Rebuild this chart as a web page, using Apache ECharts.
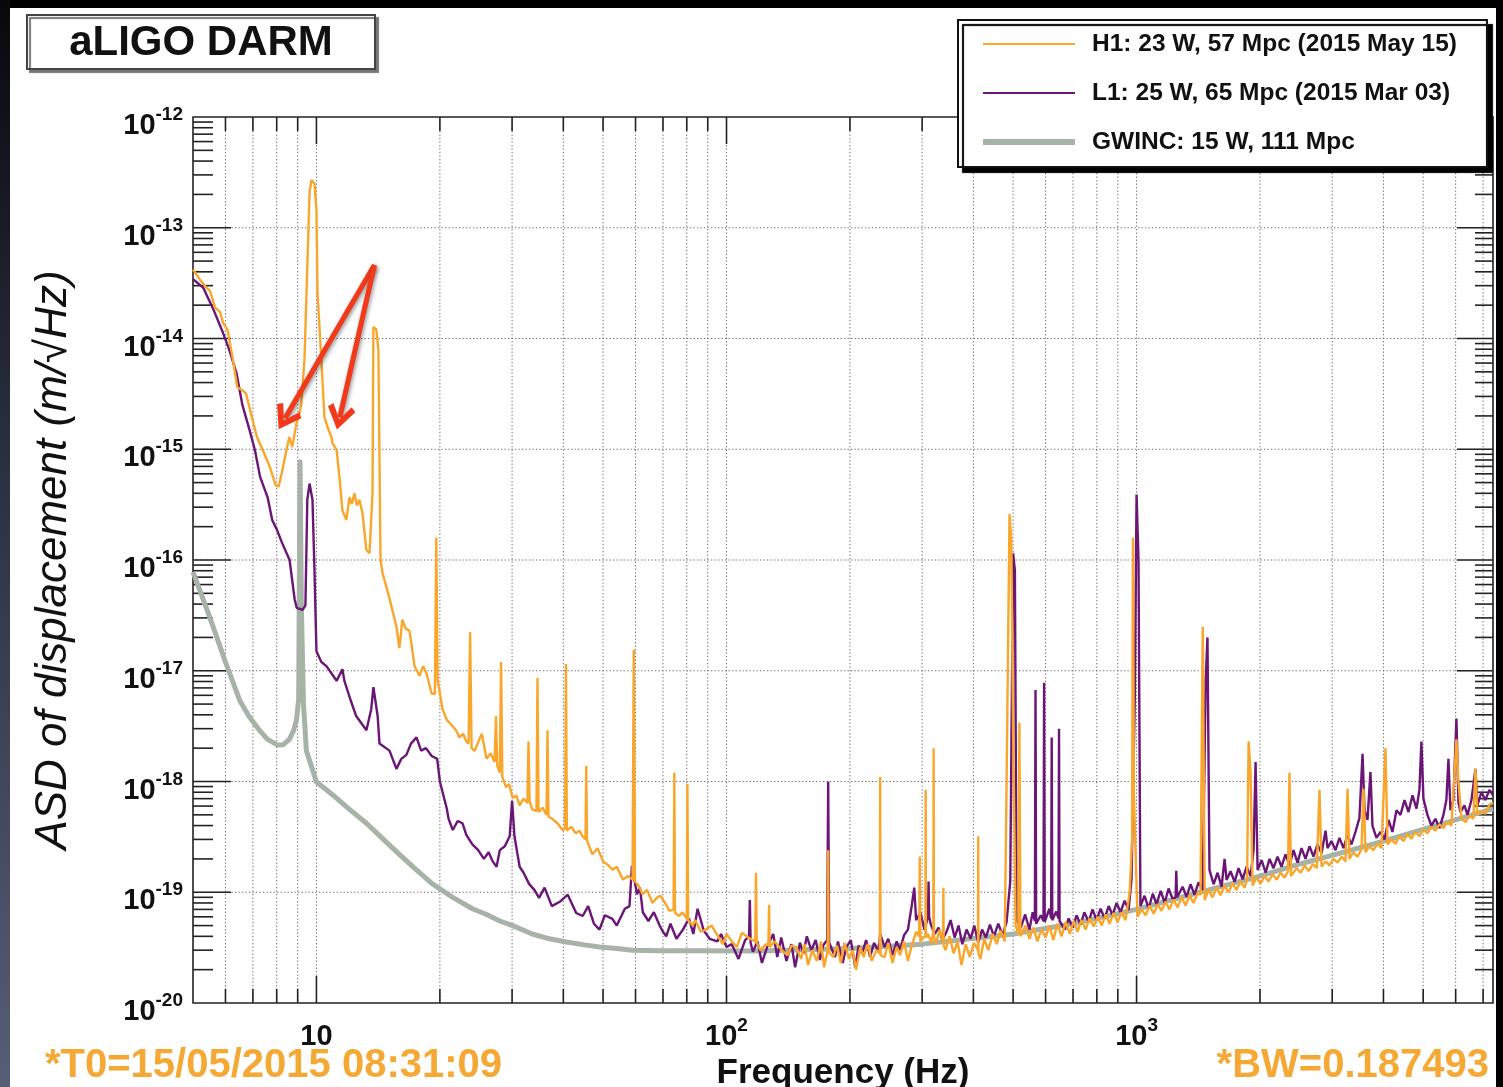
<!DOCTYPE html>
<html>
<head>
<meta charset="utf-8">
<script src="https://cdn.jsdelivr.net/npm/echarts/dist/echarts.min.js"></script>
<style>
html,body{margin:0;padding:0;background:#000;width:1503px;height:1087px;overflow:hidden}
#chart{position:absolute;left:0;top:0;width:1503px;height:1087px}
.strip{position:absolute;z-index:10}
</style>
</head>
<body>
<div id="chart"></div>
<div class="strip" style="left:0;top:0;width:1503px;height:8px;background:#000"></div>
<div class="strip" style="left:1496px;top:0;width:7px;height:1087px;background:#000"></div>
<div class="strip" style="left:0;top:0;width:10px;height:1087px;background:linear-gradient(#08080c,#2a2d3e 40%,#585d77)"></div>
<script>
// ---------- names ----------
const H1_NAME = 'H1: 23 W, 57 Mpc (2015 May 15)';
const L1_NAME = 'L1: 25 W, 65 Mpc (2015 Mar 03)';
const GW_NAME = 'GWINC: 15 W, 111 Mpc';

// ---------- axis ticks ----------
const xMajorTicks = [10, 100, 1000];
const xMinorTicks = [6,7,8,9,20,30,40,50,60,70,80,90,200,300,400,500,600,700,800,900,2000,3000,4000,5000,6000,7000];
const yMajorTicks = [1e-19,1e-18,1e-17,1e-16,1e-15,1e-14,1e-13];
const yMinorTicks = [
 2e-20,3e-20,4e-20,5e-20,6e-20,7e-20,8e-20,9e-20,
 2e-19,3e-19,4e-19,5e-19,6e-19,7e-19,8e-19,9e-19,
 2e-18,3e-18,4e-18,5e-18,6e-18,7e-18,8e-18,9e-18,
 2e-17,3e-17,4e-17,5e-17,6e-17,7e-17,8e-17,9e-17,
 2e-16,3e-16,4e-16,5e-16,6e-16,7e-16,8e-16,9e-16,
 2e-15,3e-15,4e-15,5e-15,6e-15,7e-15,8e-15,9e-15,
 2e-14,3e-14,4e-14,5e-14,6e-14,7e-14,8e-14,9e-14,
 2e-13,3e-13,4e-13,5e-13,6e-13,7e-13,8e-13,9e-13];

// ---------- data: [frequency Hz, ASD m/rtHz] ----------
const h1Low = [[5,4.2e-14],[5.2,3.4e-14],[5.4,2.86e-14],[5.5,2.7e-14],[5.66,1.9e-14],[5.82,1.74e-14],[5.92,1.38e-14],[6.07,1.2e-14],[6.24,6.8e-15],[6.41,3.65e-15],[6.6,3.4e-15],[6.73,3.2e-15],[6.96,1.95e-15],[7.16,1.29e-15],[7.4,9.8e-16],[7.7,6.9e-16],[7.95,4.75e-16],[8.09,4.6e-16],[8.23,6.1e-16],[8.46,1.0e-15],[8.59,1.29e-15],[8.73,1.05e-15],[8.94,1.73e-15],[9.09,2.1e-15],[9.19,2.6e-15],[9.35,6.4e-15],[9.51,5.1e-14],[9.62,2.06e-13],[9.72,2.7e-13],[9.89,2.5e-13],[10,1.45e-13],[10.06,2.6e-14],[10.28,6.4e-15],[10.46,1.95e-15],[10.64,1.59e-15],[10.88,1.29e-15],[10.94,1.14e-15],[11.2,9.8e-16],[11.38,5.6e-16],[11.57,2.8e-16],[11.83,2.3e-16],[12.04,3.7e-16],[12.2,3.2e-16],[12.38,4.0e-16],[12.55,3.1e-16],[12.73,3.5e-16],[12.95,2.65e-16],[13.24,1.23e-16],[13.47,1.15e-16],[13.7,4.0e-16],[13.77,1.27e-14],[14.0,1.2e-14],[14.16,7.9e-15],[14.33,1.0e-16],[14.5,7.6e-17],[15.07,4.5e-17],[15.67,2.5e-17],[15.93,1.6e-17],[16.2,2.9e-17],[16.5,2.4e-17],[16.86,2.3e-17],[17.35,1.1e-17],[17.83,9.0e-18],[18.2,1.1e-17],[18.55,9.5e-18],[19.1,6.2e-18],[19.45,6.2e-18],[19.6,1.6e-16],[19.75,8.2e-18],[20.3,4.5e-18],[20.8,3.6e-18],[21.4,3.2e-18],[21.9,2.9e-18],[22.3,2.5e-18],[22.8,2.7e-18],[23.2,2.3e-18],[23.5,2.2e-18],[23.7,2.24e-17],[23.9,2.0e-18],[24.3,1.89e-18],[25.3,2.7e-18],[26.0,1.6e-18],[26.6,1.8e-18],[27.2,1.5e-18],[27.4,3.9e-18],[27.6,1.4e-18],[28.0,1.2e-18],[28.2,1.2e-17],[28.4,1.1e-18],[29.0,8.9e-19],[29.5,9.5e-19],[30.1,7.1e-19],[30.7,7.5e-19],[31.3,6.1e-19],[32.0,7.0e-19],[32.7,6.4e-19],[32.9,2.3e-18],[33.1,6.6e-19],[33.6,5.6e-19],[34.4,5.4e-19],[34.6,8.6e-18],[34.8,5.3e-19],[35.6,5.8e-19],[36.4,5.0e-19],[36.6,2.9e-18],[36.8,4.8e-19],[37.6,4.6e-19],[38.7,4.2e-19],[39.8,3.65e-19],[40.4,3.8e-19],[40.6,1.15e-17],[40.8,3.6e-19],[41.8,3.9e-19],[42.9,3.4e-19],[43.8,3.6e-19],[44.6,3.2e-19],[45.3,3.0e-19],[45.5,1.38e-18],[45.7,2.9e-19],[47.1,2.2e-19],[48.5,2.5e-19],[50,1.9e-19],[51.5,1.75e-19],[52.7,1.6e-19],[54,1.7e-19],[55.9,1.3e-19],[57.5,1.4e-19],[59.0,1.3e-19],[59.4,1.55e-17],[59.8,1.25e-19],[61,1.15e-19],[62.4,9.6e-20],[64,1.05e-19],[66,8.0e-20],[67.6,8.9e-20],[69,9.3e-20],[71.3,7.7e-20],[72.5,6.8e-20],[74.3,7.0e-20],[74.6,1.2e-18],[74.9,6.5e-20],[76.7,6.1e-20],[78,6.6e-20],[80.0,5.8e-20],[80.3,9.5e-19],[80.6,5.6e-20],[82.7,5.0e-20],[84,5.6e-20],[86.5,4.4e-20],[89.1,4.6e-20],[92,5.0e-20],[95.8,3.9e-20],[98,3.4e-20],[100,4.2e-20],[103,3.6e-20],[106,3.2e-20],[109,4.3e-20],[113,3.9e-20],[117.5,3.6e-20],[118,1.5e-19],[118.5,3.5e-20],[121,3.0e-20],[125,3.4e-20],[126.5,3.3e-20],[127,7.7e-20],[127.5,3.2e-20],[131,3.6e-20],[137,2.95e-20],[141,2.7e-20],[144,3.3e-20]];

const h1High = [[148,3.2e-20],[152,2.5e-20],[155,3.4e-20],[158,2.2e-20],[162,3.0e-20],[166,2.4e-20],[170,3.6e-20],[173,2.1e-20],[176.5,3.0e-20],[177,2.4e-19],[177.5,2.9e-20],[182,2.6e-20],[186,3.3e-20],[190,2.3e-20],[194,3.5e-20],[199,2.5e-20],[203,3.0e-20],[207,2.0e-20],[212,3.2e-20],[216,2.6e-20],[221,3.4e-20],[226,2.4e-20],[232,3.0e-20],[236.5,2.8e-20],[237,1.1e-18],[237.5,2.7e-20],[243,2.6e-20],[248,3.5e-20],[254,2.3e-20],[260,3.2e-20],[265,2.7e-20],[271,3.6e-20],[277,2.4e-20],[283,3.3e-20],[290,4.4e-20],[295,4.0e-20],[296,2.1e-19],[297,3.6e-20],[300,3.8e-20],[305.5,4.0e-20],[306,8.4e-19],[306.5,3.9e-20],[310,4.2e-20],[316,3.5e-20],[319.5,4.4e-20],[320,2.0e-18],[320.5,4.0e-20],[324,3.4e-20],[331,4.6e-20],[337.5,3.5e-20],[338,1.1e-19],[338.5,3.3e-20],[342,3.0e-20],[350,4.0e-20],[358,2.8e-20],[366,3.6e-20],[374,2.2e-20],[383,3.4e-20],[392,2.6e-20],[401,3.5e-20],[410.5,3.0e-20],[411,3.2e-19],[411.5,2.8e-20],[416,2.5e-20],[425,3.8e-20],[435,3.0e-20],[446,4.2e-20],[456,3.4e-20],[466,4.5e-20],[477,3.6e-20],[482,1.0e-18],[490,2.6e-16],[495,1.5e-16],[500,3.0e-18],[507,5.0e-20],[515,4.2e-20],[518,3.4e-18],[521,4.0e-20],[536,5.0e-20],[548,3.8e-20],[560,4.8e-20],[573,3.6e-20],[586,4.6e-20],[600,3.9e-20],[613,5.0e-20],[627,3.7e-20],[641,5.2e-20],[656,4.0e-20],[672,5.4e-20],[687,4.2e-20],[703,5.5e-20],[718,4.4e-20],[734,5.6e-20],[751,4.6e-20],[768,5.8e-20],[786,4.9e-20],[804,6.0e-20],[822,5.0e-20],[841,6.3e-20],[859,5.2e-20],[879,6.5e-20],[899,5.4e-20],[919,6.6e-20],[940,5.6e-20],[962,1.0e-19],[975,3.0e-19],[980,1.6e-16],[985,8e-19],[1005,6.0e-20],[1028,7.0e-20],[1052,6.2e-20],[1076,7.6e-20],[1101,6.4e-20],[1126,7.8e-20],[1150,6.8e-20],[1177,8.2e-20],[1203,7.0e-20],[1231,8.6e-20],[1259,7.3e-20],[1288,9.0e-20],[1317,7.6e-20],[1346,9.4e-20],[1377,8.0e-20],[1408,9.8e-20],[1432,9.5e-20],[1450,2.5e-17],[1466,8.5e-20],[1498,1.05e-19],[1532,9.0e-20],[1567,1.1e-19],[1602,9.4e-20],[1639,1.15e-19],[1676,1.0e-19],[1714,1.2e-19],[1753,1.05e-19],[1793,1.25e-19],[1834,1.1e-19],[1860,1.3e-19],[1876,2.3e-18],[1897,1.2e-18],[1918,1.15e-19],[1962,1.35e-19],[2007,1.2e-19],[2052,1.4e-19],[2099,1.25e-19],[2147,1.45e-19],[2196,1.3e-19],[2246,1.5e-19],[2297,1.35e-19],[2340,1.55e-19],[2360,1.2e-18],[2380,1.4e-19],[2458,1.65e-19],[2514,1.5e-19],[2571,1.75e-19],[2630,1.55e-19],[2690,1.8e-19],[2751,1.65e-19],[2793,8.4e-19],[2826,1.7e-19],[2890,1.9e-19],[2954,1.75e-19],[3022,2.0e-19],[3091,1.85e-19],[3161,2.1e-19],[3233,1.9e-19],[3270,8.6e-19],[3305,2.0e-19],[3380,2.3e-19],[3457,2.1e-19],[3536,2.45e-19],[3577,8.6e-19],[3616,2.3e-19],[3698,2.6e-19],[3782,2.4e-19],[3868,2.75e-19],[3956,2.5e-19],[4046,2.0e-18],[4092,2.7e-19],[4185,3.0e-19],[4280,2.75e-19],[4376,3.2e-19],[4476,2.9e-19],[4577,3.35e-19],[4682,3.05e-19],[4788,3.5e-19],[4896,3.2e-19],[5007,3.7e-19],[5121,3.4e-19],[5237,3.9e-19],[5356,3.6e-19],[5478,4.1e-19],[5602,3.8e-19],[5729,4.3e-19],[5859,4.0e-19],[5957,1.1e-18],[6026,2.4e-18],[6095,1.0e-18],[6199,4.6e-19],[6340,4.3e-19],[6483,4.9e-19],[6630,4.6e-19],[6705,1.3e-18],[6780,5.0e-19],[6933,5.4e-19],[7090,5.1e-19],[7254,6.2e-19],[7400,6.4e-19]];

const l1Low = [[5,3.44e-14],[5.3,2.86e-14],[5.6,1.85e-14],[5.92,1.12e-14],[6.13,7.9e-15],[6.38,4.9e-15],[6.6,2.5e-15],[6.87,1.49e-15],[7.08,9.8e-16],[7.29,5.6e-16],[7.6,3.7e-16],[7.8,2.3e-16],[8.0,1.9e-16],[8.23,1.45e-16],[8.6,1.0e-16],[8.85,4.4e-17],[8.95,3.7e-17],[9.25,3.55e-17],[9.4,3.9e-17],[9.5,3.5e-16],[9.62,4.9e-16],[9.67,5.1e-16],[9.78,3.5e-16],[9.89,8.1e-17],[10,1.5e-17],[10.28,1.2e-17],[10.58,1.1e-17],[10.94,9.2e-18],[11.2,8.1e-18],[11.57,1.03e-17],[11.7,8.1e-18],[12.1,5.5e-18],[12.5,3.9e-18],[13.24,2.9e-18],[13.6,4.5e-18],[13.77,7.1e-18],[14.1,3.9e-18],[14.25,2.2e-18],[15.07,1.9e-18],[15.67,1.3e-18],[16.1,1.6e-18],[16.57,1.74e-18],[17.0,2.2e-18],[17.54,2.5e-18],[18.0,1.9e-18],[18.5,2.0e-18],[19.1,1.7e-18],[19.7,1.6e-18],[20,1.0e-18],[20.8,5.65e-19],[21,4.6e-19],[21.5,3.65e-19],[22.1,4.4e-19],[22.7,4.2e-19],[23.2,3.3e-19],[24,2.7e-19],[24.8,2.4e-19],[25.6,2.0e-19],[26.3,2.3e-19],[26.9,1.9e-19],[27.5,1.7e-19],[28,2.4e-19],[28.8,2.6e-19],[29.6,3.2e-19],[30,6.7e-19],[30.4,3.2e-19],[31.3,1.7e-19],[32,1.5e-19],[33,1.19e-19],[34,1.05e-19],[34.9,8.9e-20],[36,1.1e-19],[37.5,7.5e-20],[39.4,8.3e-20],[41,9.5e-20],[43,6.5e-20],[44.6,6.1e-20],[46,7.5e-20],[47.5,5.2e-20],[49,4.6e-20],[50.5,6.2e-20],[52.7,5.75e-20],[54,5.0e-20],[56.5,7.1e-20],[58,7.5e-20],[58.8,1.73e-19],[60.5,9.6e-20],[61.5,1.1e-19],[62.5,6.6e-20],[64.5,5.5e-20],[66.5,6.6e-20],[68.7,5.0e-20],[70,4.4e-20],[71.3,4.0e-20],[73,5.2e-20],[75.5,3.8e-20],[78.3,4.6e-20],[81,5.8e-20],[83,4.2e-20],[85,7.1e-20],[88,4.5e-20],[91,3.8e-20],[95,3.6e-20],[97,4.2e-20],[100,3.2e-20]];

const l1High = [[103,3.4e-20],[107,2.5e-20],[111,3.7e-20],[113.5,4.0e-20],[114,8.5e-20],[114.5,3.5e-20],[116,2.9e-20],[119,3.6e-20],[122,2.3e-20],[126,3.3e-20],[130,4.2e-20],[133,2.6e-20],[136,3.9e-20],[140,2.4e-20],[144,3.4e-20],[147,2.1e-20],[151,3.5e-20],[154,2.8e-20],[157,4.0e-20],[161,3.0e-20],[165,3.7e-20],[169,2.45e-20],[172,3.3e-20],[176,3.7e-20],[177,1.0e-18],[178,3.5e-20],[184,2.6e-20],[187,3.6e-20],[192,2.3e-20],[196,3.2e-20],[201,3.7e-20],[206,2.1e-20],[210,3.3e-20],[214,2.8e-20],[219,3.7e-20],[224,2.6e-20],[229,3.5e-20],[235,2.9e-20],[237,4.2e-20],[243,3.2e-20],[248,3.8e-20],[254,2.7e-20],[260,3.6e-20],[265,3.0e-20],[271,4.1e-20],[277,4.6e-20],[283,7.6e-20],[287,1.1e-19],[290,5.6e-20],[297,6.6e-20],[304,4.6e-20],[310,6.0e-20],[311,1.25e-19],[312,6.0e-20],[315,5.1e-20],[322,4.2e-20],[329,4.8e-20],[336,3.7e-20],[344,4.4e-20],[352,5.6e-20],[360,3.9e-20],[368,5.0e-20],[376,3.4e-20],[385,4.6e-20],[394,3.8e-20],[402,5.0e-20],[411,3.5e-20],[420,4.6e-20],[429,3.9e-20],[439,5.1e-20],[449,4.0e-20],[460,5.2e-20],[471,4.1e-20],[482,5.4e-20],[492,1.25e-19],[500,1.15e-16],[505,8e-17],[510,5.6e-20],[522,4.8e-20],[535,6.3e-20],[548,4.6e-20],[558,6.6e-20],[565,5.5e-20],[567,6.7e-18],[569,5.2e-20],[573,5.1e-20],[584,6.2e-20],[593,5.5e-20],[595,7.8e-18],[597,5.4e-20],[603,5.6e-20],[613,7.1e-20],[619,5.8e-20],[621,2.5e-18],[623,5.6e-20],[629,5.4e-20],[637,6.7e-20],[645,5.8e-20],[647,3.0e-18],[649,5.5e-20],[653,5.6e-20],[669,4.6e-20],[683,5.8e-20],[699,4.8e-20],[714,6.2e-20],[730,5.1e-20],[746,6.6e-20],[764,5.4e-20],[781,7.0e-20],[799,5.6e-20],[817,7.1e-20],[836,5.8e-20],[855,7.5e-20],[874,6.2e-20],[894,8.0e-20],[914,6.6e-20],[935,8.4e-20],[956,6.9e-20],[972,1.3e-19],[990,5.5e-18],[1000,3.9e-16],[1011,1.0e-16],[1022,7.5e-20],[1046,9.3e-20],[1070,7.1e-20],[1095,9.7e-20],[1119,7.8e-20],[1145,1.03e-19],[1171,8.0e-20],[1197,1.08e-19],[1225,8.7e-20],[1245,9.0e-20],[1250,1.56e-19],[1255,9.0e-20],[1265,9.3e-20],[1295,1.12e-19],[1324,9.1e-20],[1354,1.18e-19],[1385,9.5e-20],[1416,1.23e-19],[1450,1.05e-19],[1474,8.2e-18],[1489,2.0e-17],[1506,1.59e-19],[1541,1.18e-19],[1576,1.5e-19],[1612,1.12e-19],[1639,2.0e-19],[1658,1.29e-19],[1695,1.55e-19],[1734,1.24e-19],[1773,1.65e-19],[1814,1.31e-19],[1855,1.7e-19],[1897,1.4e-19],[1929,2.4e-19],[1951,1.5e-18],[1973,1.59e-19],[2018,1.95e-19],[2064,1.5e-19],[2110,2.0e-19],[2158,1.65e-19],[2207,2.1e-19],[2257,1.7e-19],[2308,2.2e-19],[2360,1.75e-19],[2414,2.4e-19],[2469,1.85e-19],[2525,2.5e-19],[2582,2.0e-19],[2641,2.6e-19],[2701,2.1e-19],[2762,2.7e-19],[2826,2.25e-19],[2890,3.6e-19],[2922,2.5e-19],[2988,2.9e-19],[3056,2.4e-19],[3125,3.1e-19],[3196,2.5e-19],[3270,3.3e-19],[3342,2.7e-19],[3418,3.5e-19],[3496,4.7e-19],[3557,1.78e-18],[3597,5.5e-19],[3657,4.5e-19],[3719,1.22e-18],[3760,4.0e-19],[3846,3.1e-19],[3934,3.5e-19],[4023,3.0e-19],[4115,4.5e-19],[4208,3.5e-19],[4304,5.5e-19],[4402,5.0e-19],[4502,6.8e-19],[4604,5.3e-19],[4709,7.5e-19],[4816,5.7e-19],[4896,8.4e-19],[4950,2.3e-18],[5007,7.0e-19],[5121,5.0e-19],[5237,4.0e-19],[5356,4.6e-19],[5478,3.8e-19],[5602,5.0e-19],[5696,6.8e-19],[5762,1.6e-18],[5827,5.5e-19],[5925,6.8e-19],[6026,3.7e-18],[6095,6.5e-19],[6164,5.3e-19],[6305,6.1e-19],[6411,5.0e-19],[6557,6.8e-19],[6705,1.3e-18],[6780,6.1e-19],[6933,8.0e-19],[7090,6.8e-19],[7254,8.4e-19],[7400,7.5e-19]];

const gwincData = [[5,7.8e-17],[5.5,3.0e-17],[6,1.2e-17],[6.5,5.4e-18],[6.87,3.8e-18],[7.26,2.9e-18],[7.6,2.4e-18],[8.03,2.14e-18],[8.3,2.15e-18],[8.59,2.4e-18],[8.8,2.9e-18],[8.94,3.6e-18],[9.05,5.5e-18],[9.12,7.7e-16],[9.19,3.6e-17],[9.3,5e-18],[9.45,1.9e-18],[10,9.9e-19],[10.5,8.6e-19],[10.94,7.6e-19],[12.04,5.6e-19],[13.24,4.2e-19],[14.5,3.05e-19],[15.93,2.2e-19],[17.5,1.6e-19],[19.18,1.19e-19],[21.5,9.0e-20],[24,7.1e-20],[26,6.3e-20],[28,5.5e-20],[30.1,5.0e-20],[33.6,4.2e-20],[37,3.8e-20],[40.7,3.55e-20],[45,3.35e-20],[49,3.2e-20],[54,3.1e-20],[59,3.0e-20],[70,2.97e-20],[86,2.96e-20],[120,2.95e-20],[200,3.1e-20],[300,3.4e-20],[500,4.2e-20],[700,5.2e-20],[1000,7e-20],[1500,1.05e-19],[2000,1.4e-19],[2500,1.8e-19],[3000,2.15e-19],[4000,2.9e-19],[5000,3.7e-19],[6000,4.5e-19],[7400,5.7e-19]];

// annotation arrows (data coordinates): start and two ends
const arrowStart = [13.85, 4.6e-14];
const arrowEnds = [[8.38, 1.9e-15], [11.4, 1.94e-15]];

// ---------- chart ----------
const FONT = '"Liberation Sans", Arial, Helvetica, sans-serif';
const byF = (a, b) => a[0] - b[0];
const h1Data = h1Low.concat(h1High).sort(byF);
const l1Data = l1Low.concat(l1High).sort(byF);

const xTickData = xMajorTicks.map(f => [f, 1e-16, 1]).concat(xMinorTicks.map(f => [f, 1e-16, 0]));
const yTickData = yMajorTicks.map(v => [10, v, 1]).concat(yMinorTicks.map(v => [10, v, 0]));

const chart = echarts.init(document.getElementById('chart'), null, {renderer: 'canvas'});

function xTickItem(params, api) {
  const cs = params.coordSys;
  const major = api.value(2);
  const px = api.coord([api.value(0), 1e-16])[0];
  const top = cs.y, bot = cs.y + cs.height;
  const len = major ? 27 : 14;
  return {type: 'group', children: [
    {type: 'line', shape: {x1: px, y1: top, x2: px, y2: bot}, style: {stroke: '#6a6a6a', lineWidth: 1, lineDash: [1.3, 2.2]}},
    {type: 'line', shape: {x1: px, y1: bot, x2: px, y2: bot - len}, style: {stroke: '#222', lineWidth: 1.6}},
    {type: 'line', shape: {x1: px, y1: top, x2: px, y2: top + len}, style: {stroke: '#222', lineWidth: 1.6}}
  ]};
}
function yTickItem(params, api) {
  const cs = params.coordSys;
  const major = api.value(2);
  const py = api.coord([10, api.value(1)])[1];
  const l = cs.x, r = cs.x + cs.width;
  const ch = [
    {type: 'line', shape: {x1: l, y1: py, x2: l + (major ? 38 : 20), y2: py}, style: {stroke: '#222', lineWidth: 1.6}},
    {type: 'line', shape: {x1: r, y1: py, x2: r - (major ? 36 : 18), y2: py}, style: {stroke: '#222', lineWidth: 1.6}}
  ];
  if (major) ch.unshift({type: 'line', shape: {x1: l, y1: py, x2: r, y2: py}, style: {stroke: '#6a6a6a', lineWidth: 1, lineDash: [1.3, 2.2]}});
  return {type: 'group', children: ch};
}

const richLabel = {
  b: {fontSize: 29, fontWeight: 'bold', fontFamily: FONT, color: '#111', lineHeight: 35, verticalAlign: 'bottom'},
  s: {fontSize: 19, fontWeight: 'bold', fontFamily: FONT, color: '#111', verticalAlign: 'top'}
};

const legendHide = {opacity: 0};

const option = {
  animation: false,
  backgroundColor: '#ffffff',
  grid: {left: 193, top: 117, right: 10, bottom: 84, show: true, borderColor: '#222', borderWidth: 1.6, backgroundColor: 'transparent', outerBoundsMode: 'none', containLabel: false},
  xAxis: {
    type: 'log', logBase: 10, min: 5, max: 7400,
    name: 'Frequency (Hz)', nameLocation: 'middle', nameGap: 43,
    nameTextStyle: {fontSize: 35, fontWeight: 'bold', fontFamily: FONT, color: '#111'},
    axisLine: {show: false}, axisTick: {show: false}, splitLine: {show: false}, minorTick: {show: false},
    axisLabel: {
      margin: 13, rich: richLabel,
      formatter: function (v) {
        const e = Math.log10(v), r = Math.round(e);
        if (Math.abs(e - r) > 1e-6) return '';
        return r === 1 ? '{b|10}' : '{b|10}{s|' + r + '}';
      }
    }
  },
  yAxis: {
    type: 'log', logBase: 10, min: 1e-20, max: 1e-12,
    name: 'ASD of displacement (m/\u221AHz)', nameLocation: 'middle', nameGap: 117, nameRotate: 90,
    nameTextStyle: {fontSize: 44, fontStyle: 'italic', fontFamily: FONT, color: '#111'},
    axisLine: {show: false}, axisTick: {show: false}, splitLine: {show: false}, minorTick: {show: false},
    axisLabel: {
      margin: 10, padding: [12, 0, 0, 0], rich: richLabel,
      formatter: function (v) { return '{b|10}{s|' + Math.round(Math.log10(v)) + '}'; }
    }
  },
  legend: {
    orient: 'vertical', left: 958, top: 20,
    data: [
      {name: H1_NAME, lineStyle: {width: 2}, itemStyle: legendHide},
      {name: L1_NAME, lineStyle: {width: 2}, itemStyle: legendHide},
      {name: GW_NAME, lineStyle: {width: 6}, itemStyle: legendHide}
    ],
    itemStyle: legendHide,
    itemWidth: 92, itemHeight: 14, itemGap: 21,
    padding: [10, 30, 11, 22],
    backgroundColor: '#fff', borderColor: '#111', borderWidth: 2,
    shadowColor: '#000', shadowOffsetX: 5, shadowOffsetY: 5, shadowBlur: 1,
    selectedMode: false,
    textStyle: {fontSize: 24.5, fontWeight: 'bold', fontFamily: FONT, color: '#111', lineHeight: 28, padding: [0, 0, 0, 12]}
  },
  graphic: [
    {type: 'rect', shape: {x: 27, y: 15, width: 348, height: 54}, z: 100,
     style: {fill: '#fff', stroke: '#444', lineWidth: 2, shadowColor: '#777', shadowOffsetX: 3, shadowOffsetY: 3, shadowBlur: 1}},
    {type: 'text', x: 201, y: 43, z: 101,
     style: {text: 'aLIGO DARM', fontSize: 42, fontWeight: 'bold', fontFamily: FONT, fill: '#111', align: 'center', verticalAlign: 'middle'}},
    {type: 'text', x: 45, y: 1066, z: 101,
     style: {text: '*T0=15/05/2015 08:31:09', fontSize: 40, fontWeight: 'bold', fontFamily: FONT, fill: '#f5a833', align: 'left', verticalAlign: 'middle'}},
    {type: 'text', x: 1489, y: 1066, z: 101,
     style: {text: '*BW=0.187493', fontSize: 40, fontWeight: 'bold', fontFamily: FONT, fill: '#f5a833', align: 'right', verticalAlign: 'middle'}}
  ],
  series: [
    {type: 'custom', name: 'xgrid', coordinateSystem: 'cartesian2d', data: xTickData, encode: {x: 0, y: 1}, renderItem: xTickItem, z: 1, silent: true, clip: false},
    {type: 'custom', name: 'ygrid', coordinateSystem: 'cartesian2d', data: yTickData, encode: {x: 0, y: 1}, renderItem: yTickItem, z: 1, silent: true, clip: false},
    {name: GW_NAME, type: 'line', data: gwincData, symbol: 'none', showSymbol: false, silent: true, z: 2,
     lineStyle: {color: '#a7b3a6', width: 5, join: 'round'}, itemStyle: {color: '#a7b3a6'}},
    {name: L1_NAME, type: 'line', data: l1Data, symbol: 'none', showSymbol: false, silent: true, z: 3,
     lineStyle: {color: '#6b1577', width: 2.4}, itemStyle: {color: '#6b1577'}},
    {name: H1_NAME, type: 'line', data: h1Data, symbol: 'none', showSymbol: false, silent: true, z: 4,
     lineStyle: {color: '#f9a62b', width: 2.4}, itemStyle: {color: '#f9a62b'},
     markLine: {
       silent: true, animation: false,
       symbol: ['none', 'path://M15,0 L30,20 L25,24 L15,10 L5,24 L0,20 Z'],
       symbolSize: [28, 25],
       label: {show: false},
       lineStyle: {color: '#f2391a', width: 5, type: 'solid', shadowColor: 'rgba(0,0,0,0.45)', shadowBlur: 4, shadowOffsetX: 1, shadowOffsetY: 2},
       itemStyle: {color: '#f2391a'},
       data: arrowEnds.map(e => [{coord: arrowStart}, {coord: e}])
     }}
  ]
};
chart.setOption(option);
</script>
</body>
</html>
